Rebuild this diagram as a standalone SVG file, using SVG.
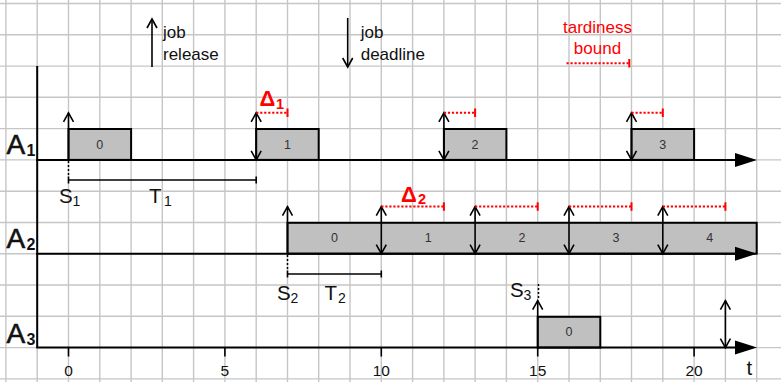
<svg xmlns="http://www.w3.org/2000/svg" width="781" height="382" viewBox="0 0 781 382">
<style>
.grid line{stroke:#c6c6c6;stroke-width:1.4}
.axis{stroke:#000;stroke-width:2;fill:none}
.box{fill:#c0c0c0;stroke:#000;stroke-width:2}
.blab{font-family:"Liberation Sans",Arial,sans-serif;font-size:12.5px;fill:#333;text-anchor:middle}
.arr{stroke:#000;stroke-width:1.6;fill:none}
.up{marker-end:url(#chev)}
.dbl{marker-end:url(#chev);marker-start:url(#chevs)}
.red{stroke:#ff0000;stroke-width:2;stroke-dasharray:2.2,1.8;fill:none}
.redt{stroke:#ff0000;stroke-width:2;fill:none}
.dot{stroke:#000;stroke-width:1.5;stroke-dasharray:2,2}
.bar{stroke:#000;stroke-width:1.6}
.t{font-family:"Liberation Sans",Arial,sans-serif;fill:#111}
.big{font-size:28px;stroke:#111;stroke-width:0.6}
.sub{font-size:16px;font-weight:bold}
.st{font-size:20.5px}
.ss{font-size:14px}
.lg{font-size:17px}
.rd{fill:#ff0000}
.dl{font-size:22px;font-weight:bold}
.dls{font-size:14.5px;font-weight:bold}
.num{font-size:15.5px;text-anchor:middle}
</style>
<defs>
<marker id="chev" markerUnits="userSpaceOnUse" markerWidth="12" markerHeight="12" refX="10" refY="5" orient="auto" overflow="visible">
<path d="M1,0 L10,5 L1,10" fill="none" stroke="#000" stroke-width="1.6"/>
</marker>
<marker id="chevs" markerUnits="userSpaceOnUse" markerWidth="12" markerHeight="12" refX="10" refY="5" orient="auto-start-reverse" overflow="visible">
<path d="M1,0 L10,5 L1,10" fill="none" stroke="#000" stroke-width="1.6"/>
</marker>
</defs>
<rect width="781" height="382" fill="#fff"/>
<g class="grid" id="grid">
<line x1="5.9" y1="0" x2="5.9" y2="382"/><line x1="37.2" y1="0" x2="37.2" y2="382"/><line x1="68.5" y1="0" x2="68.5" y2="382"/><line x1="99.8" y1="0" x2="99.8" y2="382"/><line x1="131.1" y1="0" x2="131.1" y2="382"/><line x1="162.3" y1="0" x2="162.3" y2="382"/><line x1="193.6" y1="0" x2="193.6" y2="382"/><line x1="224.9" y1="0" x2="224.9" y2="382"/><line x1="256.2" y1="0" x2="256.2" y2="382"/><line x1="287.5" y1="0" x2="287.5" y2="382"/><line x1="318.7" y1="0" x2="318.7" y2="382"/><line x1="350" y1="0" x2="350" y2="382"/><line x1="381.3" y1="0" x2="381.3" y2="382"/><line x1="412.6" y1="0" x2="412.6" y2="382"/><line x1="443.9" y1="0" x2="443.9" y2="382"/><line x1="475.1" y1="0" x2="475.1" y2="382"/><line x1="506.4" y1="0" x2="506.4" y2="382"/><line x1="537.7" y1="0" x2="537.7" y2="382"/><line x1="569" y1="0" x2="569" y2="382"/><line x1="600.3" y1="0" x2="600.3" y2="382"/><line x1="631.5" y1="0" x2="631.5" y2="382"/><line x1="662.8" y1="0" x2="662.8" y2="382"/><line x1="694.1" y1="0" x2="694.1" y2="382"/><line x1="725.4" y1="0" x2="725.4" y2="382"/><line x1="756.7" y1="0" x2="756.7" y2="382"/>
<line x1="0" y1="3.5" x2="781" y2="3.5"/><line x1="0" y1="34.8" x2="781" y2="34.8"/><line x1="0" y1="66.1" x2="781" y2="66.1"/><line x1="0" y1="97.3" x2="781" y2="97.3"/><line x1="0" y1="128.6" x2="781" y2="128.6"/><line x1="0" y1="159.9" x2="781" y2="159.9"/><line x1="0" y1="191.2" x2="781" y2="191.2"/><line x1="0" y1="222.5" x2="781" y2="222.5"/><line x1="0" y1="253.7" x2="781" y2="253.7"/><line x1="0" y1="285" x2="781" y2="285"/><line x1="0" y1="316.3" x2="781" y2="316.3"/><line x1="0" y1="347.6" x2="781" y2="347.6"/><line x1="0" y1="378.9" x2="781" y2="378.9"/>
</g>
<g id="legend">
<line class="arr up" x1="152" y1="67" x2="152" y2="19"/>
<text class="t lg" x="163" y="38">job</text>
<text class="t lg" x="163" y="60">release</text>
<line class="arr up" x1="347.7" y1="18" x2="347.7" y2="67"/>
<text class="t lg" x="360.7" y="38">job</text>
<text class="t lg" x="360.7" y="60">deadline</text>
<text class="t lg rd" x="597.5" y="33" text-anchor="middle">tardiness</text>
<text class="t lg rd" x="597.5" y="54" text-anchor="middle">bound</text>
<line class="red" x1="566.5" y1="63.3" x2="629.3" y2="63.3"/>
<line class="redt" x1="629.3" y1="59" x2="629.3" y2="67.5"/>
</g>
<g id="A1">
<g id="A1-job0"><rect class="box" x="68.5" y="129" width="62.6" height="30.9"/><text class="blab" x="99.8" y="148.5">0</text></g>
<g id="A1-job1"><rect class="box" x="256.2" y="129" width="62.5" height="30.9"/><text class="blab" x="287.5" y="148.5">1</text></g>
<g id="A1-job2"><rect class="box" x="443.9" y="129" width="62.5" height="30.9"/><text class="blab" x="475.1" y="148.5">2</text></g>
<g id="A1-job3"><rect class="box" x="631.5" y="129" width="62.6" height="30.9"/><text class="blab" x="662.8" y="148.5">3</text></g>
<text class="t big" x="6.5" y="153.5">A</text><text class="t sub" x="26.5" y="155.5">1</text>
</g>
<g id="A2">
<rect class="box" x="287.5" y="222.8" width="469.2" height="30.9"/>
<text class="blab" x="334.4" y="242.3">0</text><text class="blab" x="428.2" y="242.3">1</text><text class="blab" x="522.1" y="242.3">2</text><text class="blab" x="616" y="242.3">3</text><text class="blab" x="709.8" y="242.3">4</text>
<text class="t big" x="6.5" y="248">A</text><text class="t sub" x="26.5" y="250">2</text>
</g>
<g id="A3">
<g id="A3-job0"><rect class="box" x="537.7" y="316.8" width="62.6" height="30.8"/><text class="blab" x="569" y="336.3">0</text></g>
<text class="t big" x="6.5" y="343">A</text><text class="t sub" x="26.5" y="345">3</text>
</g>
<g id="axes">
<line class="axis" x1="37.2" y1="66.1" x2="37.2" y2="347.6"/>
<line class="axis" x1="36.2" y1="159.9" x2="740" y2="159.9"/>
<line class="axis" x1="36.2" y1="253.7" x2="740" y2="253.7"/>
<line class="axis" x1="36.2" y1="347.6" x2="740" y2="347.6"/>
<path d="M735,152.9 L757,159.9 L735,166.9 Z" fill="#000"/>
<path d="M735,246.7 L757,253.7 L735,260.7 Z" fill="#000"/>
<path d="M735,340.6 L757,347.6 L735,354.6 Z" fill="#000"/>
<line class="bar" x1="68.5" y1="347.6" x2="68.5" y2="356.5"/>
<line class="bar" x1="224.9" y1="347.6" x2="224.9" y2="356.5"/>
<line class="bar" x1="381.3" y1="347.6" x2="381.3" y2="356.5"/>
<line class="bar" x1="537.7" y1="347.6" x2="537.7" y2="356.5"/>
<line class="bar" x1="694.1" y1="347.6" x2="694.1" y2="356.5"/>
<text class="t num" x="68.5" y="376">0</text>
<text class="t num" x="224.9" y="376">5</text>
<text class="t num" x="381.3" y="376">10</text>
<text class="t num" x="537.7" y="376">15</text>
<text class="t num" x="694.1" y="376">20</text>
<text class="t st" x="746.5" y="375">t</text>
</g>
<g id="connectors">
<line class="arr up" x1="68.5" y1="159.9" x2="68.5" y2="112.8"/>
<line class="arr dbl" x1="256.2" y1="159.9" x2="256.2" y2="112.8"/>
<line class="arr dbl" x1="443.9" y1="159.9" x2="443.9" y2="112.8"/>
<line class="arr dbl" x1="631.5" y1="159.9" x2="631.5" y2="112.8"/>
<line class="red" x1="256.2" y1="112.8" x2="287.5" y2="112.8"/><line class="redt" x1="287.5" y1="108.5" x2="287.5" y2="117"/>
<line class="red" x1="443.9" y1="112.8" x2="475.1" y2="112.8"/><line class="redt" x1="475.1" y1="108.5" x2="475.1" y2="117"/>
<line class="red" x1="631.5" y1="112.8" x2="662.8" y2="112.8"/><line class="redt" x1="662.8" y1="108.5" x2="662.8" y2="117"/>
<line class="arr up" x1="287.5" y1="253.7" x2="287.5" y2="206.6"/>
<line class="arr dbl" x1="381.3" y1="253.7" x2="381.3" y2="206.6"/>
<line class="arr dbl" x1="475.1" y1="253.7" x2="475.1" y2="206.6"/>
<line class="arr dbl" x1="569" y1="253.7" x2="569" y2="206.6"/>
<line class="arr dbl" x1="662.8" y1="253.7" x2="662.8" y2="206.6"/>
<line class="red" x1="381.3" y1="206.6" x2="443.9" y2="206.6"/><line class="redt" x1="443.9" y1="202.3" x2="443.9" y2="210.8"/>
<line class="red" x1="475.1" y1="206.6" x2="537.7" y2="206.6"/><line class="redt" x1="537.7" y1="202.3" x2="537.7" y2="210.8"/>
<line class="red" x1="569" y1="206.6" x2="631.5" y2="206.6"/><line class="redt" x1="631.5" y1="202.3" x2="631.5" y2="210.8"/>
<line class="red" x1="662.8" y1="206.6" x2="725.4" y2="206.6"/><line class="redt" x1="725.4" y1="202.3" x2="725.4" y2="210.8"/>
<line class="arr up" x1="537.7" y1="347.6" x2="537.7" y2="300.6"/>
<line class="arr dbl" x1="725.4" y1="347.6" x2="725.4" y2="300.6"/>
<line class="dot" x1="68.5" y1="161" x2="68.5" y2="175"/>
<line class="bar" x1="68.5" y1="180" x2="256.2" y2="180"/>
<line class="bar" x1="68.5" y1="176.5" x2="68.5" y2="183.5"/>
<line class="bar" x1="256.2" y1="176.5" x2="256.2" y2="183.5"/>
<line class="dot" x1="287.5" y1="255" x2="287.5" y2="269"/>
<line class="bar" x1="287.5" y1="274" x2="381.3" y2="274"/>
<line class="bar" x1="287.5" y1="270.5" x2="287.5" y2="277.5"/>
<line class="bar" x1="381.3" y1="270.5" x2="381.3" y2="277.5"/>
<line class="dot" x1="538.5" y1="284" x2="538.5" y2="298"/>
</g>
<g id="labels">
<text class="t st" x="59" y="203">S</text><text class="t ss" x="72.5" y="205.5">1</text>
<text class="t st" x="149" y="203">T</text><text class="t ss" x="164" y="205.5">1</text>
<text class="t st" x="277" y="300">S</text><text class="t ss" x="290.5" y="302.5">2</text>
<text class="t st" x="324.5" y="300">T</text><text class="t ss" x="338" y="302.5">2</text>
<text class="t st" x="510" y="297">S</text><text class="t ss" x="523.5" y="299.5">3</text>
<text class="t dl rd" x="259.5" y="106">Δ</text><text class="t dls rd" x="276" y="109">1</text>
<text class="t dl rd" x="401" y="201.5">Δ</text><text class="t dls rd" x="418" y="204">2</text>
</g>
</svg>
